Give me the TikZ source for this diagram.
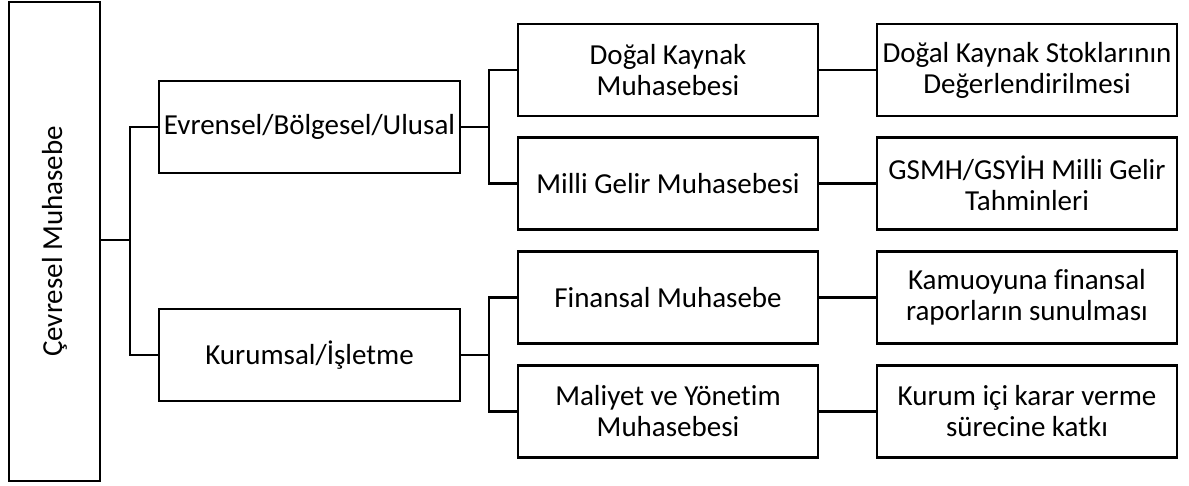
\documentclass[tikz,border=0pt]{standalone}
\usepackage{fontspec}
\setmainfont{Carlito}[Ligatures=NoCommon]
\begin{document}
\begin{tikzpicture}[x=1pt,y=-1pt,
  txt/.style={font=\fontsize{29}{31}\selectfont, align=center, inner sep=0pt},
  box/.style={txt, draw, line width=2.7pt, minimum width=300pt, minimum height=92pt},
  link/.style={line width=2.7pt}]
\useasboundingbox (0,0) rectangle (1189,486);
% root
\node[box, minimum width=91pt, minimum height=479pt] (root) at (54.5,241.5) {};
\node[txt, rotate=90] (rootlabel) at (root.center) {Çevresel Muhasebe};
% level 1
\node[box, minimum width=301pt] (evr) at (309.5,127) {Evrensel/Bölgesel/Ulusal};
\node[box, minimum width=301pt] (kur) at (309.5,355) {Kurumsal/İşletme};
% level 2
\node[box] (dkm) at (668,70) {Doğal Kaynak\\Muhasebesi};
\node[box] (mgm) at (668,183.5) {Milli Gelir Muhasebesi};
\node[box] (fin) at (668,297.5) {Finansal Muhasebe};
\node[box] (mal) at (668,411.5) {Maliyet ve Yönetim\\Muhasebesi};
% level 3
\node[box] (dks) at (1027,70) {Doğal Kaynak Stoklarının\\Değerlendirilmesi};
\node[box] (gsm) at (1027,183.5) {GSMH/GSYİH Milli Gelir\\Tahminleri};
\node[box] (kam) at (1027,297.5) {Kamuoyuna finansal\\raporların sunulması};
\node[box] (kri) at (1027,411.5) {Kurum içi karar verme\\sürecine katkı};
% junctions
\coordinate (j0) at (130,240);
\coordinate (j1) at (489,127);
\coordinate (j2) at (489,355);
% connectors
\draw[link] (root.east |- j0) -- (j0);
\draw[link] (evr.west) -| (j0) |- (kur.west);
\draw[link] (evr.east) -- (j1);
\draw[link] (dkm.west) -| (j1) |- (mgm.west);
\draw[link] (kur.east) -- (j2);
\draw[link] (fin.west) -| (j2) |- (mal.west);
\draw[link] (dkm.east) -- (dks.west);
\draw[link] (mgm.east) -- (gsm.west);
\draw[link] (fin.east) -- (kam.west);
\draw[link] (mal.east) -- (kri.west);
\end{tikzpicture}
\end{document}
